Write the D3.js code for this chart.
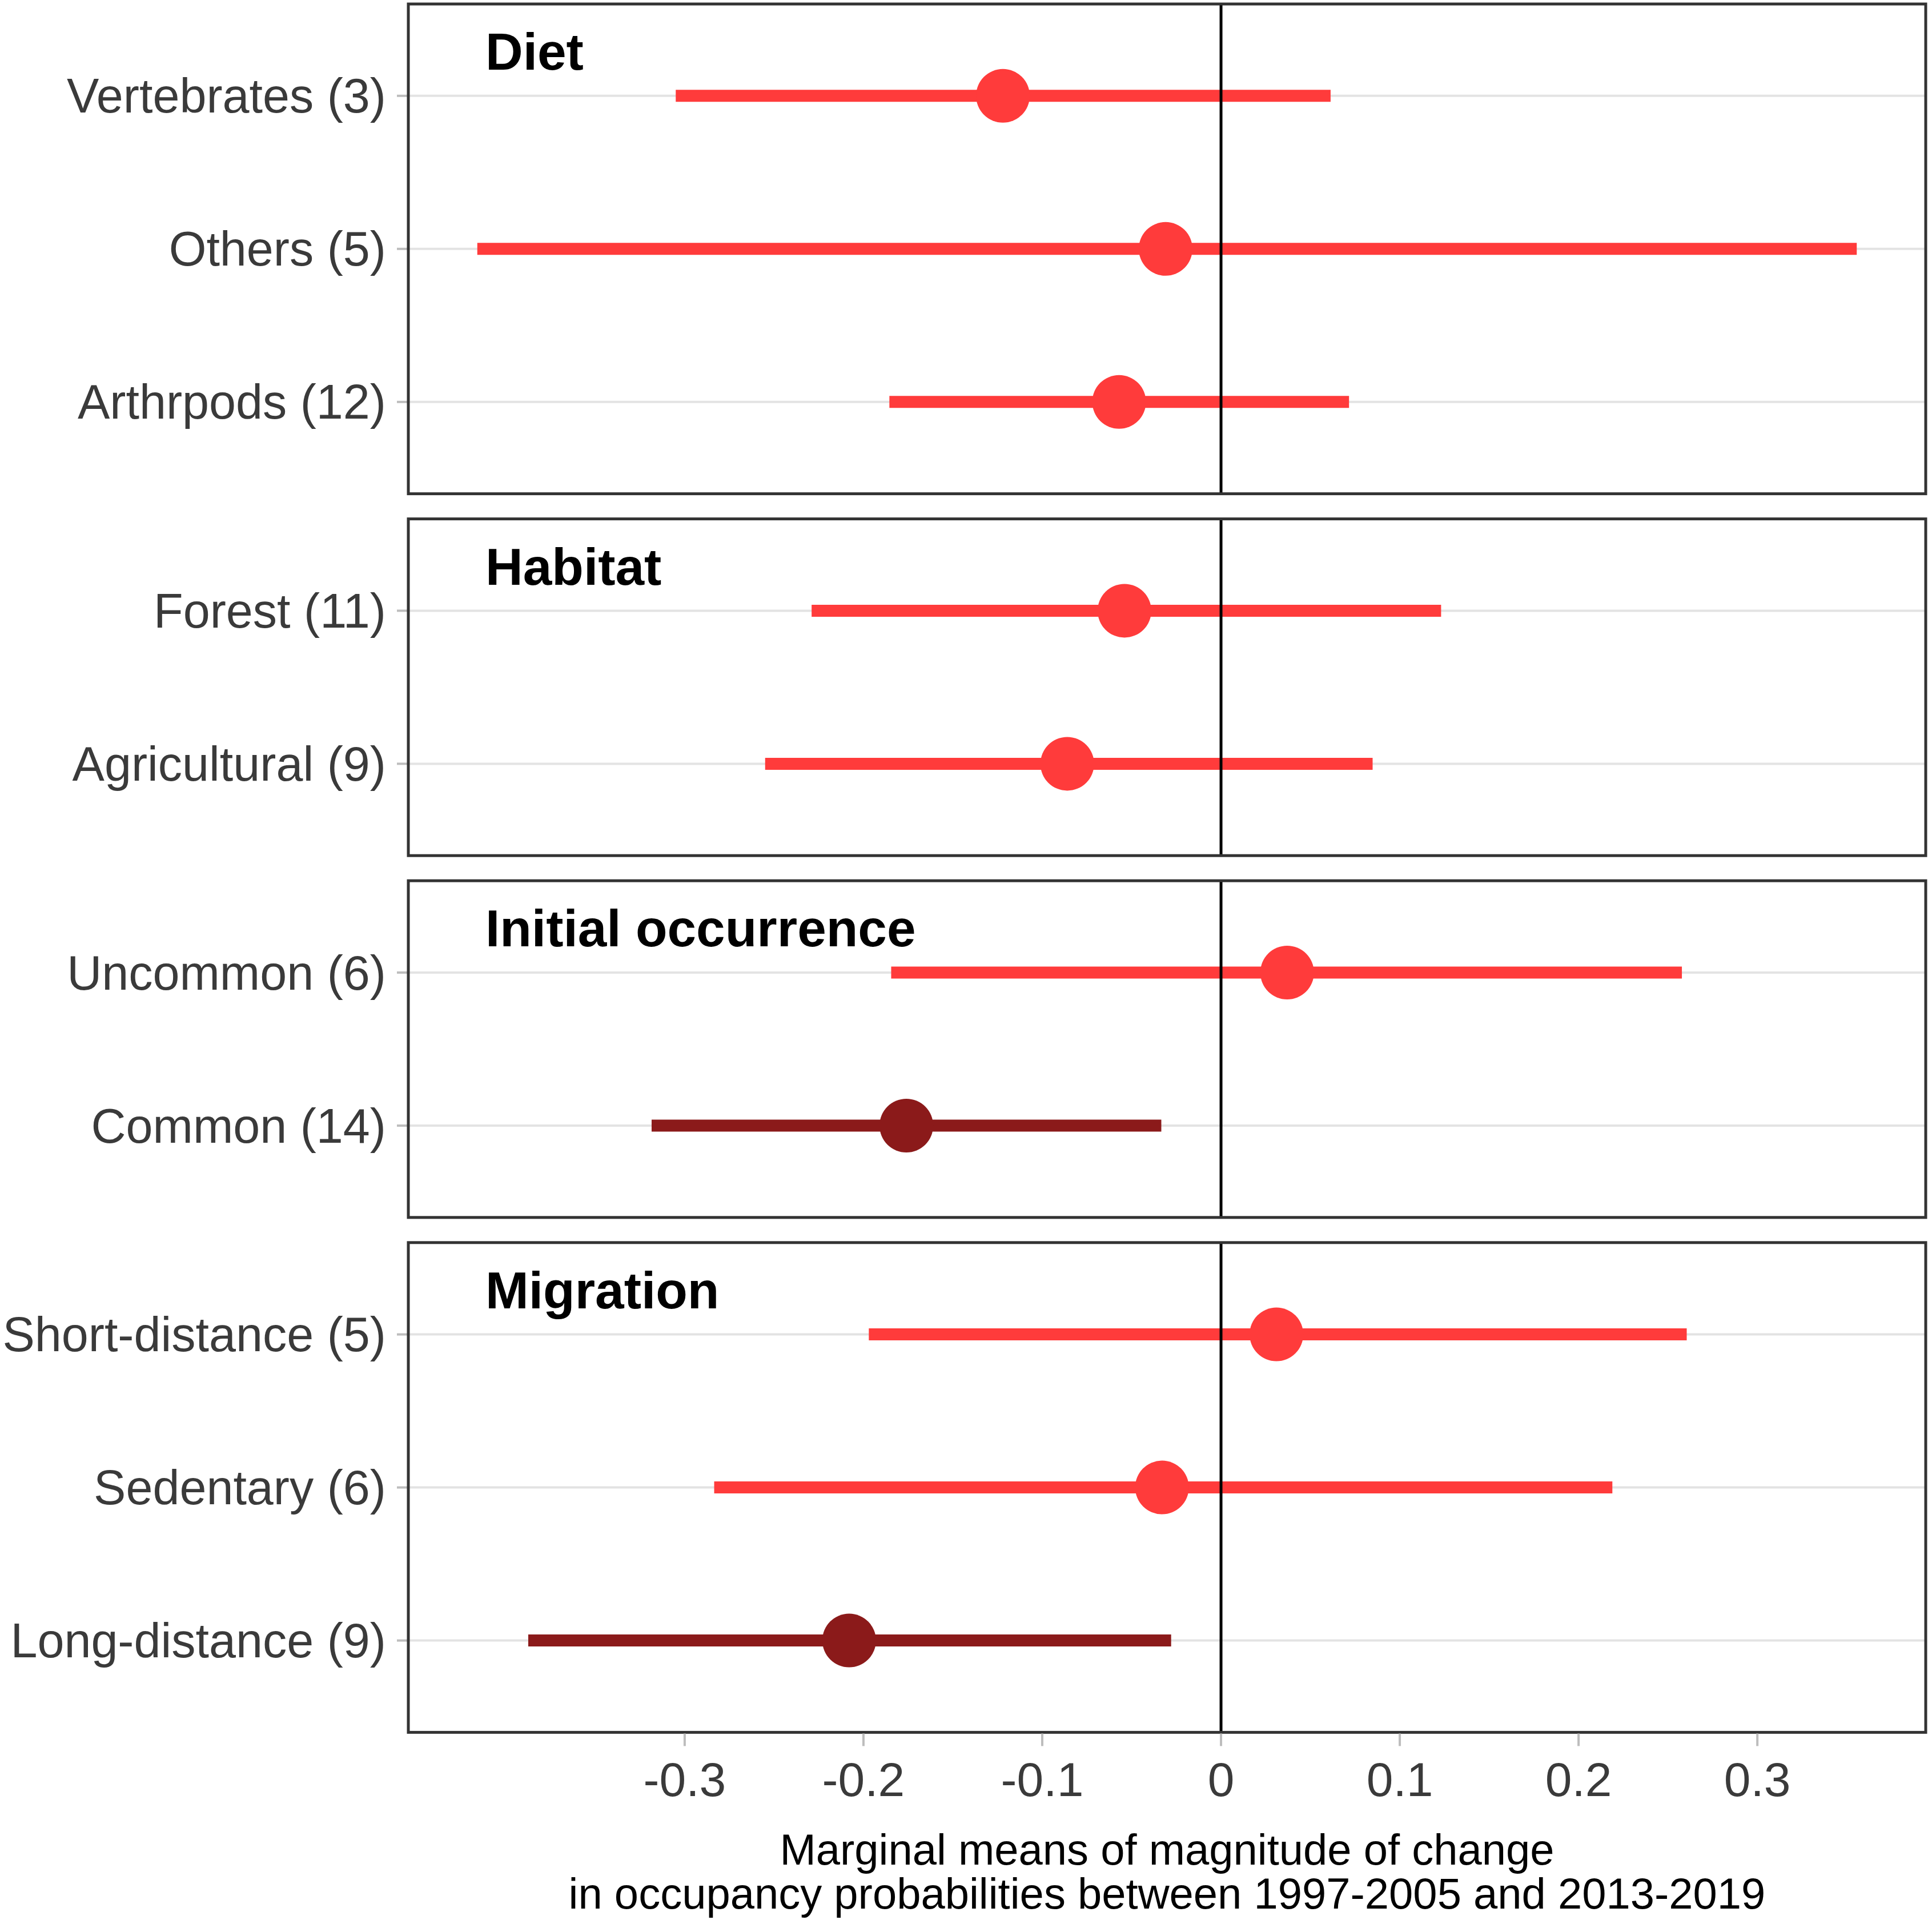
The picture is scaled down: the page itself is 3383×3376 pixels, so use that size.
<!DOCTYPE html>
<html>
<head>
<meta charset="utf-8">
<script src="https://cdn.jsdelivr.net/npm/d3@7"></script>
<style>
  body { margin: 0; background: #fff; }
  text { font-family: "Liberation Sans", Arial, sans-serif; }
</style>
</head>
<body>
<svg id="chart"></svg>
<script>
  // facet groups, top to bottom
  const groups = ["Diet", "Habitat", "Initial occurrence", "Migration"];

  // rows (top to bottom inside each facet)
  const rowLabels = [
    "Vertebrates (3)", "Others (5)", "Arthrpods (12)",
    "Forest (11)", "Agricultural (9)",
    "Uncommon (6)", "Common (14)",
    "Short-distance (5)", "Sedentary (6)", "Long-distance (9)"
  ];
  const rowGroup = [
    "Diet", "Diet", "Diet",
    "Habitat", "Habitat",
    "Initial occurrence", "Initial occurrence",
    "Migration", "Migration", "Migration"
  ];

  // marginal means and interval ends
  const means = [-0.122, -0.031, -0.057, -0.054, -0.086, 0.037, -0.176, 0.031, -0.033, -0.208];
  const lower = [-0.305, -0.416, -0.1855, -0.229, -0.255, -0.1845, -0.3185, -0.197, -0.2835, -0.3875];
  const upper = [0.0613, 0.3556, 0.0716, 0.1231, 0.0848, 0.2578, -0.0334, 0.2605, 0.2189, -0.0279];
  // intervals not crossing zero
  const significant = [false, false, false, false, false, false, true, false, false, true];

  const xTicks = [-0.3, -0.2, -0.1, 0, 0.1, 0.2, 0.3];
  const xTitle = ["Marginal means of magnitude of change",
                  "in occupancy probabilities between 1997-2005 and 2013-2019"];

  const width = 3383;
  const height = 3376;
  const panelLeft = 715;
  const panelRight = 3372;
  const panelTop0 = 7;
  const rowUnit = 268;
  const panelGap = 44;

  const colorNormal = "#ff3b3b";
  const colorSig = "#8b1a1a";

  const svg = d3.select("#chart")
    .attr("width", width)
    .attr("height", height)
    .attr("viewBox", [0, 0, width, height]);

  const data = rowLabels.map((label, i) => ({
    label: label,
    group: rowGroup[i],
    mean: means[i],
    lo: lower[i],
    hi: upper[i],
    sig: significant[i]
  }));

  // x scale with ggplot-like 5% expansion
  const xMin = d3.min(lower), xMax = d3.max(upper);
  const pad = (xMax - xMin) * 0.05;
  const x = d3.scaleLinear()
    .domain([xMin - pad, xMax + pad])
    .range([panelLeft, panelRight]);

  let panelTop = panelTop0;
  let lastBottom = 0;

  groups.forEach(group => {
    const rows = data.filter(d => d.group === group);
    const h = rowUnit * (rows.length + 0.2);
    const y = d3.scalePoint()
      .domain(rows.map(d => d.label))
      .range([panelTop, panelTop + h])
      .padding(0.6);

    const g = svg.append("g").attr("class", "panel");

    // horizontal grid lines
    g.selectAll(".grid")
      .data(rows)
      .enter()
      .append("line")
      .attr("x1", panelLeft)
      .attr("x2", panelRight)
      .attr("y1", d => y(d.label))
      .attr("y2", d => y(d.label))
      .attr("stroke", "#e3e3e3")
      .attr("stroke-width", 4);

    // y axis ticks and labels
    g.selectAll(".ytick")
      .data(rows)
      .enter()
      .append("line")
      .attr("x1", panelLeft - 20)
      .attr("x2", panelLeft)
      .attr("y1", d => y(d.label))
      .attr("y2", d => y(d.label))
      .attr("stroke", "#bdbdbd")
      .attr("stroke-width", 4);

    g.selectAll(".ylabel")
      .data(rows)
      .enter()
      .append("text")
      .attr("x", panelLeft - 39)
      .attr("y", d => y(d.label))
      .attr("dy", "0.35em")
      .attr("text-anchor", "end")
      .attr("font-size", "84.5px")
      .attr("fill", "#3a3a3a")
      .text(d => d.label);

    // interval bars
    g.selectAll(".bar")
      .data(rows)
      .enter()
      .append("line")
      .attr("x1", d => x(d.lo))
      .attr("x2", d => x(d.hi))
      .attr("y1", d => y(d.label))
      .attr("y2", d => y(d.label))
      .attr("stroke", d => d.sig ? colorSig : colorNormal)
      .attr("stroke-width", 21);

    // zero reference line
    g.append("line")
      .attr("x1", x(0))
      .attr("x2", x(0))
      .attr("y1", panelTop)
      .attr("y2", panelTop + h)
      .attr("stroke", "#000")
      .attr("stroke-width", 5);

    // points
    g.selectAll(".pt")
      .data(rows)
      .enter()
      .append("circle")
      .attr("cx", d => x(d.mean))
      .attr("cy", d => y(d.label))
      .attr("r", 47)
      .attr("fill", d => d.sig ? colorSig : colorNormal);

    // group label
    g.append("text")
      .attr("x", panelLeft + 135)
      .attr("y", panelTop + 115)
      .attr("font-size", "91px")
      .attr("font-weight", "bold")
      .attr("fill", "#000")
      .text(group);

    // panel border
    g.append("rect")
      .attr("x", panelLeft)
      .attr("y", panelTop)
      .attr("width", panelRight - panelLeft)
      .attr("height", h)
      .attr("fill", "none")
      .attr("stroke", "#333")
      .attr("stroke-width", 5);

    lastBottom = panelTop + h;
    panelTop = panelTop + h + panelGap;
  });

  // x axis (bottom of last panel)
  const axis = svg.append("g").attr("class", "x-axis");

  axis.selectAll(".xtick")
    .data(xTicks)
    .enter()
    .append("line")
    .attr("x1", d => x(d))
    .attr("x2", d => x(d))
    .attr("y1", lastBottom + 2)
    .attr("y2", lastBottom + 24)
    .attr("stroke", "#bdbdbd")
    .attr("stroke-width", 4);

  axis.selectAll(".xlabel")
    .data(xTicks)
    .enter()
    .append("text")
    .attr("x", d => x(d))
    .attr("y", lastBottom + 112)
    .attr("text-anchor", "middle")
    .attr("font-size", "84px")
    .attr("fill", "#3a3a3a")
    .text(d => d === 0 ? "0" : d3.format(".1f")(d).replace("\u2212", "-"));

  const centerX = (panelLeft + panelRight) / 2;
  axis.selectAll(".xtitle")
    .data(xTitle)
    .enter()
    .append("text")
    .attr("x", centerX)
    .attr("y", (d, i) => lastBottom + 232 + i * 77)
    .attr("text-anchor", "middle")
    .attr("font-size", "76px")
    .attr("fill", "#000")
    .text(d => d);
</script>
</body>
</html>
